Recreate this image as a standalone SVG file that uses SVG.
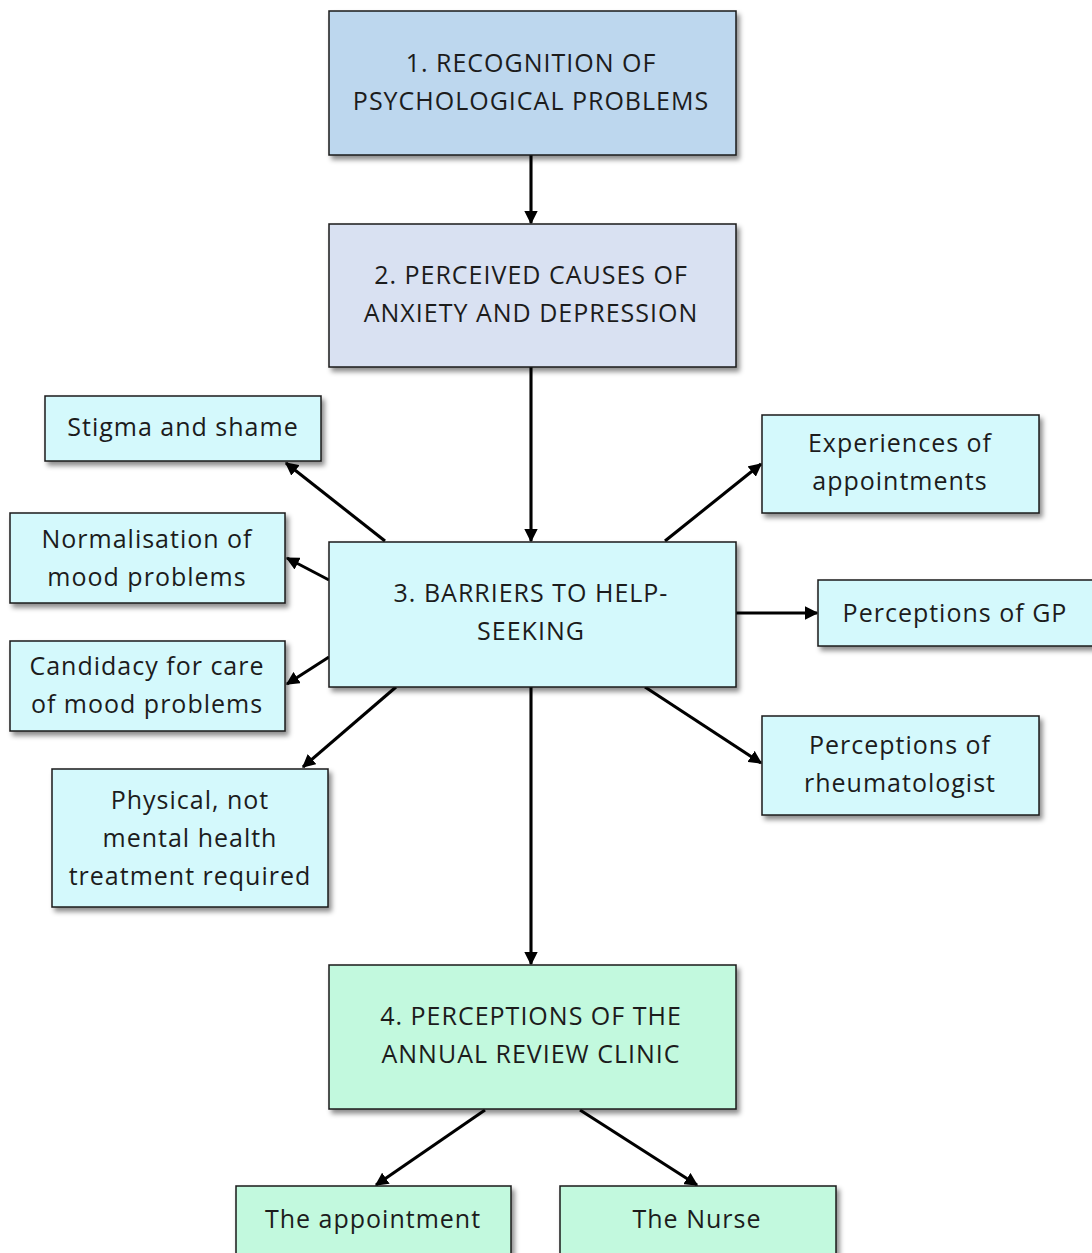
<svg xmlns="http://www.w3.org/2000/svg" width="1092" height="1253" viewBox="0 0 1092 1253">
  <style>
    .box { stroke: #1a1a1a; stroke-width: 1.5; filter: url(#shadow); }
    .t { font-family: "Open Sans", "Noto Sans", sans-serif; font-size: 25px; letter-spacing: 1px; fill: #1c1c1c; text-anchor: middle; }
    .blue { fill: #bdd7ee; }
    .lav { fill: #d9e1f2; }
    .cyan { fill: #d4f9fc; }
    .mint { fill: #c2f9de; }
    .conn line { stroke: #000; stroke-width: 3.1; marker-end: url(#arrow); }
  </style>
  <defs>
    <filter id="shadow" x="-10%" y="-10%" width="130%" height="140%">
      <feDropShadow dx="3" dy="4" stdDeviation="2.5" flood-color="#000" flood-opacity="0.45"/>
    </filter>
    <marker id="arrow" viewBox="0 0 10 10" refX="9" refY="5" markerWidth="4.3" markerHeight="4.3" orient="auto" markerUnits="strokeWidth">
      <path d="M0,0 L10,5 L0,10 z" fill="#000"/>
    </marker>
  </defs>
  <rect width="1092" height="1253" fill="#fff"/>

  <g id="connectors" class="conn">
    <line x1="531" y1="155" x2="531" y2="223"/>
    <line x1="531" y1="367" x2="531" y2="541"/>
    <line x1="385" y1="541" x2="286" y2="463"/>
    <line x1="329" y1="580" x2="287" y2="558"/>
    <line x1="329" y1="657" x2="287" y2="684"/>
    <line x1="396" y1="687" x2="303" y2="767"/>
    <line x1="665" y1="541" x2="761" y2="464"/>
    <line x1="736" y1="613" x2="817" y2="613"/>
    <line x1="645" y1="687" x2="761" y2="763"/>
    <line x1="531" y1="687" x2="531" y2="964"/>
    <line x1="485" y1="1110" x2="376" y2="1185"/>
    <line x1="580" y1="1110" x2="697" y2="1185"/>
  </g>

  <g id="n1">
    <rect class="box blue" x="329" y="11" width="407" height="144"/>
    <text class="t" x="531" y="72">1. RECOGNITION OF</text>
    <text class="t" x="531" y="110">PSYCHOLOGICAL PROBLEMS</text>
  </g>
  <g id="n2">
    <rect class="box lav" x="329" y="224" width="407" height="143"/>
    <text class="t" x="531" y="284">2. PERCEIVED CAUSES OF</text>
    <text class="t" x="531" y="322">ANXIETY AND DEPRESSION</text>
  </g>
  <g id="n3">
    <rect class="box cyan" x="329" y="542" width="407" height="145"/>
    <text class="t" x="531" y="602">3. BARRIERS TO HELP-</text>
    <text class="t" x="531" y="640">SEEKING</text>
  </g>
  <g id="stigma">
    <rect class="box cyan" x="45" y="396" width="276" height="65"/>
    <text class="t" x="183" y="436">Stigma and shame</text>
  </g>
  <g id="normalisation">
    <rect class="box cyan" x="10" y="513" width="275" height="90"/>
    <text class="t" x="147" y="548">Normalisation of</text>
    <text class="t" x="147" y="586">mood problems</text>
  </g>
  <g id="candidacy">
    <rect class="box cyan" x="10" y="641" width="275" height="90"/>
    <text class="t" x="147" y="675">Candidacy for care</text>
    <text class="t" x="147" y="713">of mood problems</text>
  </g>
  <g id="physical">
    <rect class="box cyan" x="52" y="769" width="276" height="138"/>
    <text class="t" x="190" y="809">Physical, not</text>
    <text class="t" x="190" y="847">mental health</text>
    <text class="t" x="190" y="885">treatment required</text>
  </g>
  <g id="experiences">
    <rect class="box cyan" x="762" y="415" width="277" height="98"/>
    <text class="t" x="900" y="452">Experiences of</text>
    <text class="t" x="900" y="490">appointments</text>
  </g>
  <g id="gp">
    <rect class="box cyan" x="818" y="580" width="277" height="66"/>
    <text class="t" x="955" y="622">Perceptions of GP</text>
  </g>
  <g id="rheumatologist">
    <rect class="box cyan" x="762" y="716" width="277" height="99"/>
    <text class="t" x="900" y="754">Perceptions of</text>
    <text class="t" x="900" y="792">rheumatologist</text>
  </g>
  <g id="n4">
    <rect class="box mint" x="329" y="965" width="407" height="144"/>
    <text class="t" x="531" y="1025">4. PERCEPTIONS OF THE</text>
    <text class="t" x="531" y="1063">ANNUAL REVIEW CLINIC</text>
  </g>
  <g id="appointment">
    <rect class="box mint" x="236" y="1186" width="275" height="80"/>
    <text class="t" x="373" y="1228">The appointment</text>
  </g>
  <g id="nurse">
    <rect class="box mint" x="560" y="1186" width="276" height="80"/>
    <text class="t" x="697" y="1228">The Nurse</text>
  </g>
</svg>
